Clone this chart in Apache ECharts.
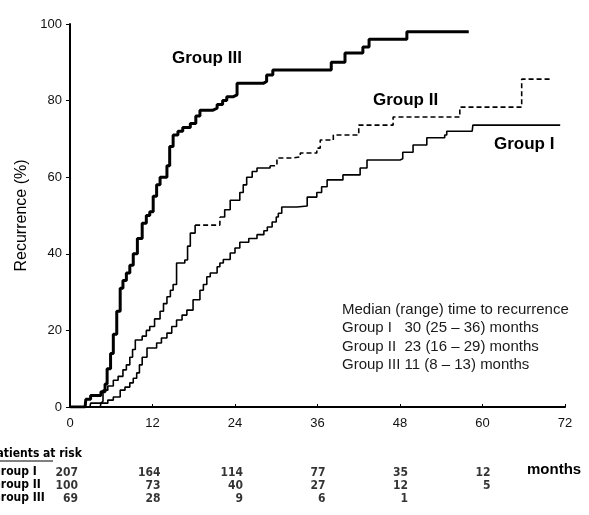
<!DOCTYPE html>
<html>
<head>
<meta charset="utf-8">
<script src="https://cdn.jsdelivr.net/npm/echarts@6/dist/echarts.min.js"></script>
<style>
html,body{margin:0;padding:0;background:#fff;}
#chart{width:589px;height:515px;}
</style>
</head>
<body>
<div id="chart"></div>
<script>
// ---- Data (months, cumulative recurrence %) ----
const groupIII = [[0,0],[2.2,0],[2.3,2],[3,3],[4.5,4],[5.1,6],[5.4,10],[5.9,14],[6.3,19],[6.8,25],[7.3,31],[7.7,33],[8.2,35],[8.7,37],[9.2,40],[9.8,44],[10.5,48],[11.1,50],[11.6,51],[12.1,55],[12.6,58],[13.1,60],[14.1,63],[14.5,68],[15,71],[15.7,72],[16.4,73],[17.5,74],[18.3,76],[18.9,77.5],[20.8,78],[21.4,79],[22.2,80],[22.8,81],[23.7,81.5],[24.3,84.5],[28.1,85],[28.6,86.7],[29.5,88],[38,90],[40,92.4],[42.6,94],[43.5,96],[49,98],[58,98]];
const groupII = [[0,0],[2.9,0],[3,1],[4.5,1.5],[4.8,4.4],[5.5,5.5],[6.3,7],[7,8],[7.7,9.7],[8.2,11],[8.7,13],[9.1,15],[9.5,17.5],[10.5,18.5],[11.1,20],[11.6,21],[12.3,23],[13.1,25],[13.6,27],[14.1,28.8],[14.6,30.5],[15,32],[15.5,37.6],[16.7,38.4],[17.1,42],[17.5,45.4],[18.2,47.5],[21.8,49.6],[22.5,51.5],[23.3,54],[24.7,56],[25.2,58],[25.7,60],[26.5,61.5],[27.2,62.4],[29.1,63],[30.1,65],[32.4,65.3],[33.5,66.3],[35.9,67.6],[36.4,69.7],[38.3,71],[42,73.6],[47,75.7],[56.7,78.3],[65.7,85.6],[70,85.6]];
const groupI = [[0,0],[4.4,0],[4.5,1],[5.5,1.8],[6.3,2.6],[7.3,4.4],[8,5.2],[8.7,6.3],[9.2,7.5],[9.7,8.9],[10.1,11],[10.5,13],[11.2,15.4],[12.6,16.7],[13.3,18],[14.1,19.3],[14.8,21],[15.5,22.7],[16.3,24],[17,25.3],[17.9,28],[18.9,30.5],[19.4,32],[19.9,34],[20.4,35],[21.4,36.6],[21.8,37.6],[22.3,38.5],[23.3,40.2],[24,41.5],[24.7,43],[26,44],[27.2,45],[28.2,46],[28.7,47],[29.4,48.3],[30,49.6],[30.3,50.6],[30.8,52.2],[33,52.5],[34.5,54.8],[35.9,56],[36.6,57.5],[37.4,59.3],[39.7,60.6],[42.2,62.4],[43.2,64.5],[48,64.8],[48.4,66.5],[49.9,68.4],[51.9,70.3],[54.5,71],[54.8,72],[58.5,72],[58.6,73.6],[71.3,73.6]];

// Numbers at risk
const riskMonths = [0,12,24,36,48,60];
const riskGroupI = [207,164,114,77,35,12];
const riskGroupII = [100,73,40,27,12,5];
const riskGroupIII = [69,28,9,6,1];
const riskRows = ['Group I','Group II','Group III'];

// Axis ticks
const xTicks = [0,12,24,36,48,60,72];
const yTicks = [0,20,40,60,80,100];

// Median text
const medianLines = ['Median (range) time to recurrence','Group I   30 (25 \u2013 36) months','Group II  23 (16 \u2013 29) months','Group III 11 (8 \u2013 13) months'];

// ---- Build ----
const chart = echarts.init(document.getElementById('chart'));
const FONT = "'Liberation Sans', Arial, sans-serif";
const NARROW = "'Liberation Sans Narrow', 'DejaVu Sans Condensed', 'Liberation Sans', sans-serif";

const g2DashedRanges = [[18.2,21.8],[29.1,70]];
function isDashed(x0,x1){ return g2DashedRanges.some(r => x0 >= r[0]-1e-9 && x1 <= r[1]+1e-9); }
function splitRuns(d){
  const runs = [];
  let cur = null;
  for (let i=0;i<d.length-1;i++){
    const dashed = isDashed(d[i][0], d[i+1][0]);
    if (!cur || cur.dashed !== dashed){
      cur = {dashed, pts:[d[i]]};
      runs.push(cur);
    }
    cur.pts.push(d[i+1]);
  }
  return runs;
}

const series = [];
series.push({type:'line', step:'end', data:groupIII, showSymbol:false, silent:true,
  lineStyle:{color:'#000', width:3}, xAxisIndex:0, yAxisIndex:0});
series.push({type:'line', step:'end', data:groupI, showSymbol:false, silent:true,
  lineStyle:{color:'#000', width:1.6}, xAxisIndex:0, yAxisIndex:0});
splitRuns(groupII).forEach(r => {
  series.push({type:'line', step:'end', data:r.pts, showSymbol:false, silent:true,
    lineStyle:{color:'#000', width:1.6, type: r.dashed ? [5,3] : 'solid'}, xAxisIndex:0, yAxisIndex:0});
});

[riskGroupI, riskGroupII, riskGroupIII].forEach((arr, gi) => {
  series.push({type:'scatter', xAxisIndex:1, yAxisIndex:1, symbolSize:0, silent:true,
    data: arr.map((v,i) => [riskMonths[i], gi, v]),
    label:{show:true, position:'inside', align:'right', offset:[8,0],
      formatter: p => String(p.value[2]), color:'#000', fontSize:12, fontWeight:'bold', fontFamily:NARROW}
  });
});

const graphics = [];
// Group labels
[['Group III',172,60],['Group II',373,102],['Group I',494,146]].forEach(g => {
  graphics.push({type:'text', left:g[1], top:g[2]-10, style:{text:g[0], font:"bold 17px "+FONT, fill:'#000'}});
});
// median text
medianLines.forEach((t,i) => {
  graphics.push({type:'text', left:342, top:302+i*18.5, style:{text:t, font:"15px "+FONT, fill:'#1a1a1a'}});
});
// months label
graphics.push({type:'text', left:527, top:462, style:{text:'months', font:"bold 15px "+FONT, fill:'#000'}});
// patients at risk header
graphics.push({type:'text', left:-11, top:448, style:{text:'Patients at risk', font:"bold 12px "+NARROW, fill:'#000'}});
graphics.push({type:'line', shape:{x1:0,y1:461,x2:53,y2:461}, style:{stroke:'#000', lineWidth:1}});
riskRows.forEach((r,i) => {
  graphics.push({type:'text', left:-8, top:466+i*13, style:{text:r, font:"bold 12px "+NARROW, fill:'#000'}});
});

chart.setOption({
  animation:false,
  backgroundColor:'#fff',
  grid:[
    {left:70, right:24, top:24, bottom:108},
    {left:70, right:24, top:466.5, height:39}
  ],
  xAxis:[
    {type:'value', gridIndex:0, min:0, max:72, interval:12,
      axisLine:{show:true, onZero:false, lineStyle:{color:'#000', width:2}},
      axisTick:{show:true, inside:true, length:3, lineStyle:{color:'#000'}},
      axisLabel:{color:'#111', fontSize:13, fontFamily:FONT, margin:10,
        formatter: v => xTicks.includes(v) ? String(v) : ''},
      splitLine:{show:false}},
    {type:'value', gridIndex:1, min:0, max:72, show:false}
  ],
  yAxis:[
    {type:'value', gridIndex:0, min:0, max:100, interval:20,
      name:'Recurrence (%)', nameLocation:'middle', nameGap:38, nameRotate:90,
      nameTextStyle:{fontSize:16, fontFamily:FONT, color:'#000'},
      axisLine:{show:true, lineStyle:{color:'#000', width:2}},
      axisTick:{show:true, length:4, lineStyle:{color:'#000'}},
      axisLabel:{color:'#111', fontSize:13, fontFamily:FONT, margin:8,
        formatter: v => yTicks.includes(v) ? String(v) : ''},
      splitLine:{show:false}},
    {type:'category', gridIndex:1, data:riskRows.map((r,i)=>i), inverse:true, show:false}
  ],
  series: series,
  graphic: graphics
});
</script>
</body>
</html>
